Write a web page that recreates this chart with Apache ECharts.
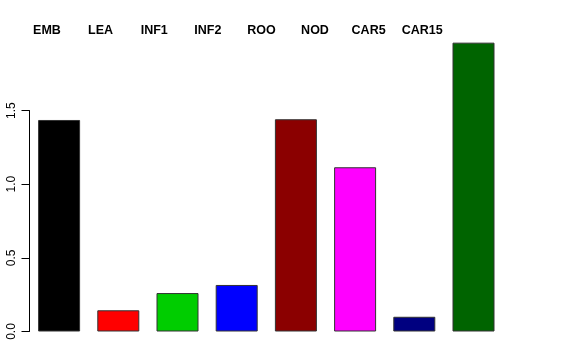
<!DOCTYPE html>
<html><head><meta charset="utf-8">
<script src="https://cdn.jsdelivr.net/npm/echarts@6/dist/echarts.min.js"></script>
<style>html,body{margin:0;padding:0;background:#fff}#c{width:576px;height:360px}</style>
</head><body><div id="c"></div>
<script>
const categories = ['EMB','LEA','INF1','INF2','ROO','NOD','CAR5','CAR15'];
const values = [1.436, 0.144, 0.261, 0.316, 1.441, 1.115, 0.100, 1.961];
const colors = ['#000000','#FF0000','#00CD00','#0000FF','#8B0000','#FF00FF','#000080','#006400'];
const yTicks = [0, 0.5, 1.0, 1.5];

const zeroY = 331.5, unit = 147.3;
const chart = echarts.init(document.getElementById('c'), null, {renderer:'canvas'});
const font = 'Liberation Sans, Arial, Helvetica, sans-serif';
chart.setOption({
  animation:false,
  grid:[
    {left:29.5, width:473.6, top: zeroY - 2*unit, bottom: 360-zeroY},
    {left:29.5, width:473.6, top: zeroY - 1.5*unit, bottom: 360-zeroY},
    {left:20.2, width:428.8, top: 36, height: 10}
  ],
  xAxis:[
    {gridIndex:0, type:'category', data:categories, show:false},
    {gridIndex:1, type:'value', show:false},
    {gridIndex:2, type:'category', data:categories, position:'top',
     axisLine:{show:false}, axisTick:{show:false},
     axisLabel:{show:true, margin:-1, fontSize:12.5, fontWeight:'bold', color:'#000', fontFamily:font}}
  ],
  yAxis:[
    {gridIndex:0, type:'value', min:0, max:2, show:false},
    {gridIndex:1, type:'value', min:0, max:1.5, interval:0.5,
     axisLine:{show:true, lineStyle:{color:'#000', width:1}},
     axisTick:{show:true, length:8, lineStyle:{color:'#000'}},
     splitLine:{show:false},
     axisLabel:{show:true, rotate:90, margin:12, fontSize:12, color:'#000', fontFamily:font,
       formatter: v => v.toFixed(1)}},
    {gridIndex:2, type:'value', show:false}
  ],
  series:[{
    type:'bar', xAxisIndex:0, yAxisIndex:0, barWidth:42,
    data: values.map((v,i)=>({value:v, itemStyle:{color:colors[i]}})),
    itemStyle:{borderColor:'#333', borderWidth:1}
  }]
});
</script></body></html>
